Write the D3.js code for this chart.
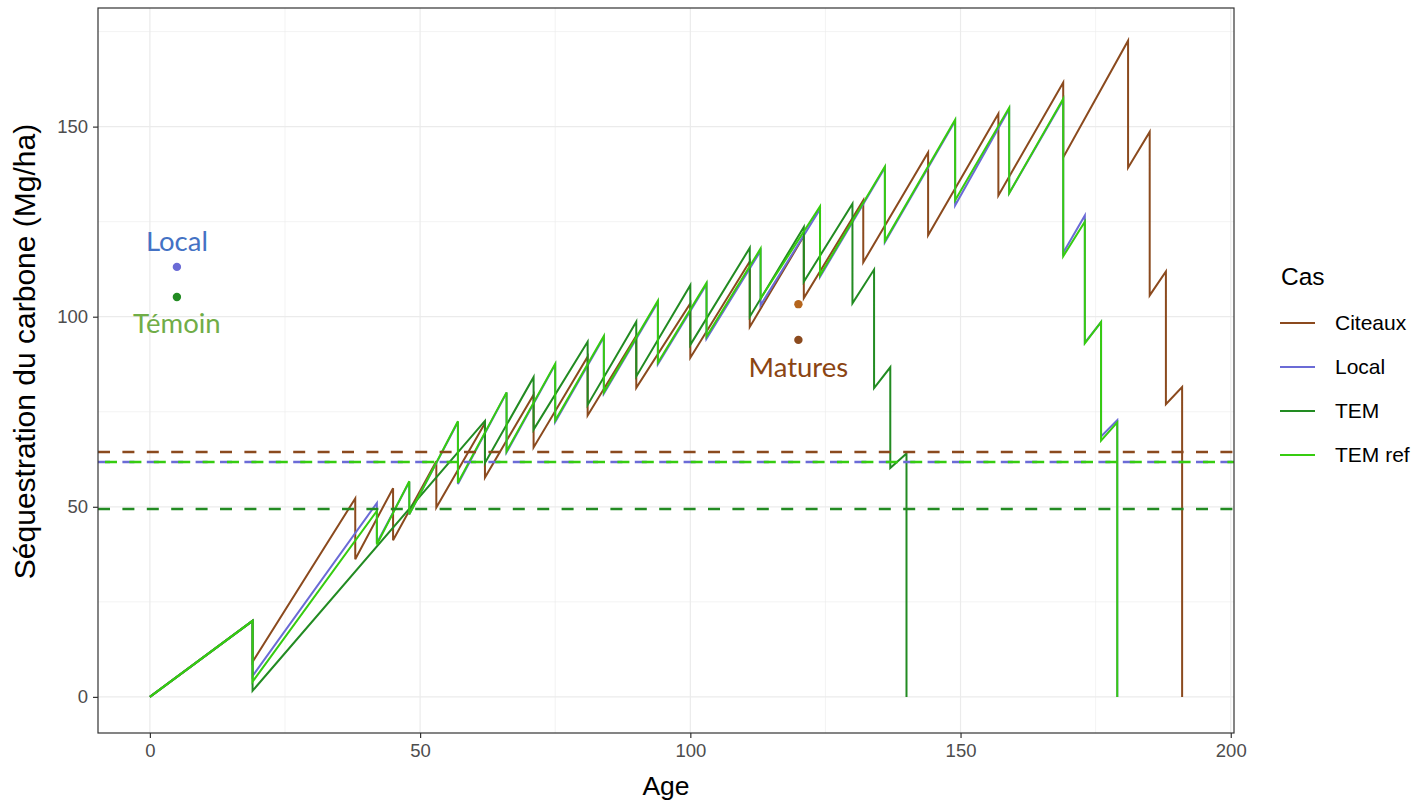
<!DOCTYPE html>
<html>
<head>
<meta charset="utf-8">
<script src="https://cdn.jsdelivr.net/npm/d3@7"></script>
<style>
  body { margin: 0; background: #fff; }
  svg { display: block; font-family: "Liberation Sans", Arial, sans-serif; }
</style>
</head>
<body>
<svg id="chart" width="1418" height="802"></svg>
<script>
// Séries (âge en années, carbone en Mg/ha)
const citeauxAge = [0, 19, 19, 38, 38, 45, 45, 53, 53, 62, 62, 71, 71, 81, 81, 90, 90, 100, 100, 111, 111, 121, 121, 132, 132, 144, 144, 157, 157, 169, 169, 181, 181, 185, 185, 188, 188, 191, 191];
const citeauxVal = [0, 20, 9.2, 52.2, 36.2, 54.9, 41.2, 62, 49.8, 72, 57.7, 79.5, 65.6, 89.5, 74, 95, 81.3, 103.5, 89.2, 114.5, 97.3, 121.2, 104.9, 130.6, 114.3, 143.2, 121.4, 153.4, 131.9, 161.6, 141.9, 172.6, 139.2, 148.6, 105.6, 111.9, 77, 81.5, 0];

const refAge = [0, 19, 19, 42, 42, 48, 48, 57, 57, 66, 66, 75, 75, 84, 84, 94, 94, 103, 103, 113, 113, 124, 124, 136, 136, 149, 149, 159, 159, 169, 169, 173, 173, 176, 176, 179, 179];
const localVal = [0, 20, 5.5, 51, 40.5, 56.5, 48, 72.3, 56, 80, 64.3, 87.4, 72.3, 94.6, 79.8, 103.8, 87.5, 108.5, 94.2, 117.3, 103, 128.3, 110.5, 139.2, 119.6, 151.5, 129.3, 154.6, 132.5, 157, 116.8, 126.6, 93.2, 98.6, 68.5, 72.8, 0];
const temRefVal = [0, 20, 4, 48.9, 40.1, 56.7, 48, 72.5, 56.3, 80.1, 64.6, 87.6, 72.7, 94.9, 80.1, 104.2, 87.9, 108.9, 94.8, 117.9, 104.8, 129, 110.9, 139.5, 119.9, 151.8, 130.6, 155, 132.5, 157.3, 115.9, 125, 93, 98.6, 67.4, 72.2, 0];

const temAge = [0, 19, 19, 62, 62, 71, 71, 81, 81, 90, 90, 100, 100, 111, 111, 121, 121, 130, 130, 134, 134, 137, 137, 140, 140];
const temVal = [0, 20, 1.6, 72.6, 61.5, 84.1, 70.3, 93.4, 76.8, 98.7, 84.3, 108.3, 92.6, 118.1, 100, 123.6, 109.2, 129.7, 103.5, 112.4, 81.2, 86.7, 60.2, 64, 0];

// Seuils horizontaux (tirets)
const cases = ['Citeaux', 'Local', 'TEM', 'TEM ref'];
const seuils = [64.4, 61.8, 49.4, 61.8];

// Points annotés
const pointNames = ['Local', 'Témoin', 'Matures haut', 'Matures bas'];
const pointAge = [5, 5, 120, 120];
const pointVal = [113.1, 105.2, 103.3, 93.9];

const xTicks = [0, 50, 100, 150, 200];
const yTicks = [0, 50, 100, 150];
const xMinor = [25, 75, 125, 175];
const yMinor = [25, 75, 125, 175];

const colors = { 'Citeaux': '#8B4A1E', 'Local': '#6B6BD6', 'TEM': '#228B22', 'TEM ref': '#36CC10' };

const svg = d3.select('#chart');
const m = { l: 98, r: 1234, t: 8, b: 733 };

const x = d3.scaleLinear().domain([-9.6, 200.6]).range([m.l, m.r]);
const y = d3.scaleLinear().domain([-9.5, 181.2]).range([m.b, m.t]);

// Grille
const grid = svg.append('g');
grid.selectAll('.xminor').data(xMinor).enter().append('line')
  .attr('x1', d => x(d)).attr('x2', d => x(d)).attr('y1', m.t).attr('y2', m.b)
  .attr('stroke', '#EBEBEB').attr('stroke-width', 0.6);
grid.selectAll('.yminor').data(yMinor).enter().append('line')
  .attr('y1', d => y(d)).attr('y2', d => y(d)).attr('x1', m.l).attr('x2', m.r)
  .attr('stroke', '#EBEBEB').attr('stroke-width', 0.6);
grid.selectAll('.xmajor').data(xTicks).enter().append('line')
  .attr('x1', d => x(d)).attr('x2', d => x(d)).attr('y1', m.t).attr('y2', m.b)
  .attr('stroke', '#EBEBEB').attr('stroke-width', 1.2);
grid.selectAll('.ymajor').data(yTicks).enter().append('line')
  .attr('y1', d => y(d)).attr('y2', d => y(d)).attr('x1', m.l).attr('x2', m.r)
  .attr('stroke', '#EBEBEB').attr('stroke-width', 1.2);

// Courbes
const line = d3.line().x(d => x(d[0])).y(d => y(d[1]));
const series = [
  { name: 'Citeaux', pts: d3.zip(citeauxAge, citeauxVal) },
  { name: 'Local', pts: d3.zip(refAge, localVal) },
  { name: 'TEM', pts: d3.zip(temAge, temVal) },
  { name: 'TEM ref', pts: d3.zip(refAge, temRefVal) },
];
svg.append('g').selectAll('path').data(series).enter().append('path')
  .attr('d', d => line(d.pts))
  .attr('fill', 'none')
  .attr('stroke', d => colors[d.name])
  .attr('stroke-width', 2)
  .attr('stroke-linejoin', 'miter');

// Lignes de seuil
const offsets = [0, 0, 0, -7];
svg.append('g').selectAll('line').data(cases).enter().append('line')
  .attr('x1', m.l).attr('x2', m.r)
  .attr('y1', (d, i) => y(seuils[i])).attr('y2', (d, i) => y(seuils[i]))
  .attr('stroke', d => colors[d])
  .attr('stroke-width', 2.6)
  .attr('stroke-dasharray', '12,12.4')
  .attr('stroke-dashoffset', (d, i) => offsets[i]);

// Points
const pointColors = ['#6B6BD6', '#228B22', '#B5651D', '#8B4A1E'];
svg.append('g').selectAll('circle').data(pointNames).enter().append('circle')
  .attr('cx', (d, i) => x(pointAge[i]))
  .attr('cy', (d, i) => y(pointVal[i]))
  .attr('r', 4.2)
  .attr('fill', (d, i) => pointColors[i]);

// Annotations
const notes = svg.append('g').attr('font-family', 'Lato, "Open Sans", sans-serif').attr('font-size', 27.5).attr('text-anchor', 'middle');
notes.append('text').attr('x', x(5)).attr('y', 251).attr('fill', '#4472C4').text('Local');
notes.append('text').attr('x', x(5)).attr('y', 333).attr('fill', '#70AD47').text('Témoin');
notes.append('text').attr('x', x(120)).attr('y', 377).attr('fill', '#8B4513').text('Matures');

// Cadre
svg.append('rect').attr('x', m.l).attr('y', m.t).attr('width', m.r - m.l).attr('height', m.b - m.t)
  .attr('fill', 'none').attr('stroke', '#333333').attr('stroke-width', 1.2);

// Axes
const xAxis = svg.append('g').attr('transform', `translate(0,${m.b})`)
  .call(d3.axisBottom(x).tickValues(xTicks).tickSize(5).tickPadding(6));
const yAxis = svg.append('g').attr('transform', `translate(${m.l},0)`)
  .call(d3.axisLeft(y).tickValues(yTicks).tickSize(5).tickPadding(5));
[xAxis, yAxis].forEach(a => {
  a.select('.domain').remove();
  a.selectAll('line').attr('stroke', '#333333').attr('stroke-width', 1.2);
  a.selectAll('text').attr('fill', '#4D4D4D').attr('font-size', 18.5)
    .attr('font-family', '"Liberation Sans", Arial, sans-serif');
});

svg.append('text').attr('x', (m.l + m.r) / 2).attr('y', 795)
  .attr('text-anchor', 'middle').attr('font-size', 26.5).text('Age');
svg.append('text').attr('transform', `translate(35,${(m.t + m.b) / 2 - 19}) rotate(-90)`)
  .attr('text-anchor', 'middle').attr('font-size', 30).text('Séquestration du carbone (Mg/ha)');

// Légende
const leg = svg.append('g');
leg.append('text').attr('x', 1281).attr('y', 285).attr('font-size', 24.5).text('Cas');
const legY = d3.scalePoint().domain(cases).range([323, 455]);
leg.selectAll('line').data(cases).enter().append('line')
  .attr('x1', 1280).attr('x2', 1315)
  .attr('y1', d => legY(d)).attr('y2', d => legY(d))
  .attr('stroke', d => colors[d]).attr('stroke-width', 2.2);
leg.selectAll('.lab').data(cases).enter().append('text')
  .attr('x', 1335).attr('y', d => legY(d) + 7)
  .attr('font-size', 21).text(d => d);
</script>
</body>
</html>
